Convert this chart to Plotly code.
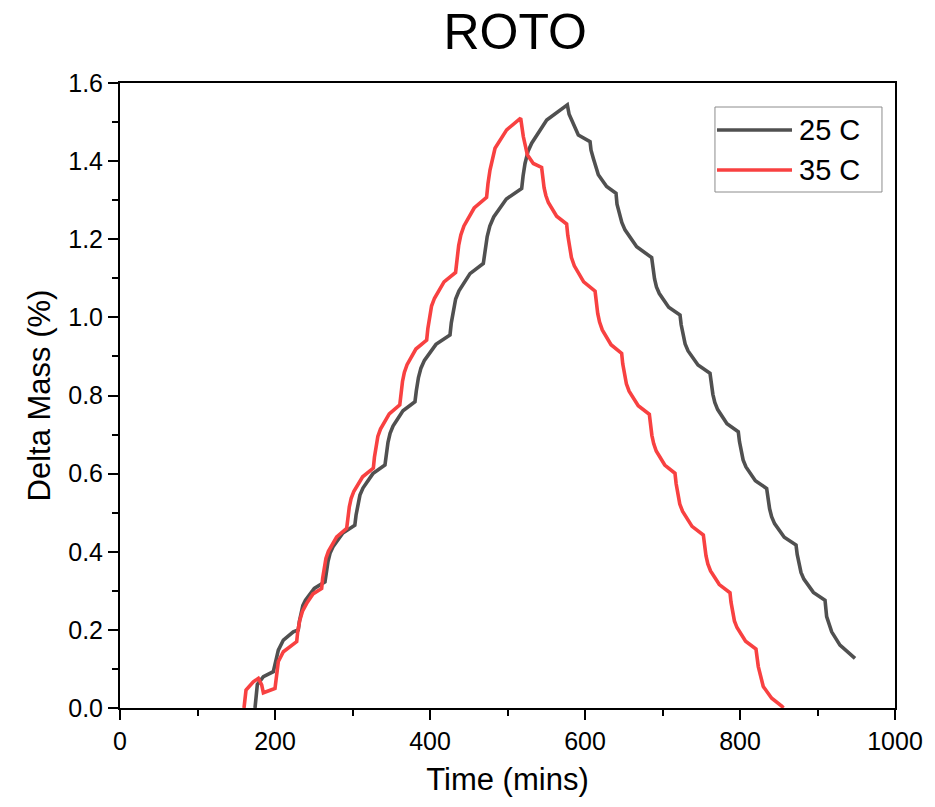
import plotly.graph_objects as go

# ---- data ----
time_25 = [174.2, 177.2, 185, 197.8, 204.3, 210.8, 223.6, 230,
           231.4, 233.5, 235.9, 239.3, 250.7, 264.5,
           266.0, 268.4, 271.0, 274.9, 287.6, 303,
           304.6, 306.9, 309.6, 313.5, 326.3, 341.9,
           343.4, 345.8, 348.5, 352.3, 365.1, 380.6,
           382.4, 385.1, 388.3, 392.8, 407.7, 425.8,
           427.5, 430.1, 433.1, 437.4, 451.6, 468.8,
           470.8, 473.8, 477.2, 482.2, 498.5, 518.3,
           520.1, 522.6, 526.5, 531.2, 550.6, 577.2,
           579.5, 585, 591.4, 606.5,
           607.8, 610.8, 617.2, 627.9, 640,
           641.3, 644.3, 647.5, 651.6, 666.7, 686,
           687.5, 689.7, 692.2, 695.9, 708, 722.6,
           724.1, 726.5, 729.2, 733.0, 745.8, 761.3,
           762.8, 765, 767.5, 771.2, 783.2, 797.8,
           799.3, 801.5, 804.0, 807.7, 819.8, 834.4,
           835.9, 838.2, 840.8, 844.6, 857.1, 872.3,
           873.8, 876.0, 878.7, 882.4, 894.7, 909.7,
           910.5, 911.8, 918.3, 929, 948.4]
mass_25 = [0.0, 0.06, 0.08, 0.093, 0.148, 0.174, 0.195, 0.2,
           0.221, 0.244, 0.262, 0.276, 0.306, 0.323,
           0.348, 0.375, 0.396, 0.413, 0.448, 0.468,
           0.494, 0.523, 0.545, 0.563, 0.600, 0.622,
           0.650, 0.680, 0.703, 0.722, 0.761, 0.784,
           0.813, 0.846, 0.870, 0.890, 0.931, 0.955,
           0.986, 1.021, 1.047, 1.068, 1.112, 1.138,
           1.171, 1.207, 1.234, 1.257, 1.303, 1.33,
           1.362, 1.394, 1.425, 1.446, 1.505, 1.544,
           1.52, 1.493, 1.467, 1.45,
           1.428, 1.407, 1.365, 1.335, 1.318,
           1.29, 1.262, 1.243, 1.224, 1.181, 1.153,
           1.126, 1.099, 1.078, 1.061, 1.026, 1.006,
           0.981, 0.952, 0.932, 0.914, 0.878, 0.857,
           0.832, 0.803, 0.782, 0.764, 0.728, 0.707,
           0.682, 0.655, 0.635, 0.617, 0.582, 0.562,
           0.537, 0.510, 0.490, 0.472, 0.437, 0.417,
           0.393, 0.366, 0.347, 0.330, 0.296, 0.276,
           0.255, 0.234, 0.195, 0.161, 0.127]

time_35 = [160, 162.6, 172, 178.5, 182.8, 185, 200, 204.3, 210.8, 228,
           229.3, 232, 235.5, 240.9, 249, 260.2,
           261.5, 263.4, 265.7, 268.9, 279.6, 292.5,
           293.9, 295.9, 298.3, 301.8, 313.1, 326.9,
           328.3, 330.3, 332.7, 336.1, 347.4, 361,
           362.4, 364.5, 366.9, 370.4, 381.8, 395.7,
           397.2, 399.4, 402.0, 405.8, 418.1, 433,
           434.6, 437, 439.8, 443.8, 457, 473,
           474.8, 477.4, 483.9, 498.9, 517,
           518.1, 520.4, 525.6, 533.3, 544,
           545.3, 547.2, 549.5, 552.7, 563.4, 576.3,
           577.8, 580, 582.5, 586.2, 598.3, 613,
           614.4, 616.4, 618.8, 622.3, 633.6, 647.3,
           648.7, 650.9, 653.4, 656.9, 668.7, 683,
           684.3, 686.3, 688.6, 691.9, 702.9, 716.1,
           717.6, 719.8, 722.3, 726, 738.1, 752.7,
           754.1, 756.1, 758.5, 762, 773.3, 787.1,
           788.4, 790.5, 792.8, 796.1, 807.2, 820.6,
           821.6, 823.6, 830, 840.9, 853.8, 856]
mass_35 = [0.0, 0.046, 0.067, 0.076, 0.059, 0.039, 0.05, 0.119, 0.144, 0.17,
           0.195, 0.225, 0.248, 0.268, 0.292, 0.306,
           0.332, 0.361, 0.383, 0.401, 0.438, 0.46,
           0.486, 0.515, 0.537, 0.555, 0.592, 0.614,
           0.642, 0.672, 0.695, 0.714, 0.753, 0.776,
           0.804, 0.836, 0.859, 0.879, 0.919, 0.942,
           0.971, 1.004, 1.029, 1.049, 1.091, 1.115,
           1.148, 1.184, 1.211, 1.234, 1.280, 1.307,
           1.342, 1.377, 1.433, 1.48, 1.51,
           1.49, 1.463, 1.416, 1.394, 1.384,
           1.359, 1.332, 1.312, 1.294, 1.259, 1.239,
           1.21, 1.177, 1.153, 1.132, 1.091, 1.067,
           1.04, 1.010, 0.988, 0.968, 0.930, 0.908,
           0.881, 0.852, 0.83, 0.811, 0.774, 0.752,
           0.726, 0.698, 0.677, 0.658, 0.622, 0.601,
           0.574, 0.544, 0.522, 0.503, 0.465, 0.443,
           0.418, 0.390, 0.369, 0.351, 0.316, 0.295,
           0.271, 0.243, 0.223, 0.206, 0.171, 0.151,
           0.13, 0.106, 0.055, 0.025, 0.005, 0.0]

series_names = ["25 C", "35 C"]
x_ticks = [0, 200, 400, 600, 800, 1000]
y_ticks = [0.0, 0.2, 0.4, 0.6, 0.8, 1.0, 1.2, 1.4, 1.6]
y_tick_labels = ["0.0", "0.2", "0.4", "0.6", "0.8", "1.0", "1.2", "1.4", "1.6"]

GRAY = "#505050"
RED = "#F84141"
FONT = "Arial, Liberation Sans, sans-serif"

fig = go.Figure()
fig.add_trace(go.Scatter(x=time_25, y=mass_25, mode="lines", name=series_names[0],
                         line=dict(color=GRAY, width=3.6)))
fig.add_trace(go.Scatter(x=time_35, y=mass_35, mode="lines", name=series_names[1],
                         line=dict(color=RED, width=3.6)))

axis_common = dict(showline=True, linewidth=2, linecolor="black", mirror=True,
                   showgrid=False, zeroline=False, ticks="outside", ticklen=10,
                   tickwidth=2, tickcolor="black",
                   tickfont=dict(family=FONT, size=25, color="black"))

fig.update_xaxes(range=[0, 1000], tickvals=x_ticks, ticktext=[str(v) for v in x_ticks],
                 minor=dict(ticks="outside", ticklen=6, tickwidth=2, tickcolor="black",
                            tick0=0, dtick=100),
                 title=dict(text="Time (mins)", font=dict(family=FONT, size=31, color="black"),
                            standoff=14),
                 **axis_common)
fig.update_yaxes(range=[0, 1.6], tickvals=y_ticks, ticktext=y_tick_labels,
                 minor=dict(ticks="outside", ticklen=6, tickwidth=2, tickcolor="black",
                            tick0=0, dtick=0.1),
                 title=dict(text="Delta Mass (%)", font=dict(family=FONT, size=31, color="black"),
                            standoff=8),
                 **axis_common)

# manual legend (long line samples as in the reference)
legend_box = dict(x0=0.7677, x1=0.9832, y0=0.8256, y1=0.9616)
fig.add_shape(type="rect", xref="paper", yref="paper", line=dict(color="#8c8c8c", width=1),
              fillcolor="white", layer="above", **legend_box)
for name, color, yy in [(series_names[0], GRAY, 0.9248), (series_names[1], RED, 0.8608)]:
    fig.add_shape(type="line", xref="paper", yref="paper", x0=0.7703, x1=0.8671, y0=yy, y1=yy,
                  line=dict(color=color, width=3.6), layer="above")
    fig.add_annotation(xref="paper", yref="paper", x=0.8735, y=yy, xanchor="left",
                       yanchor="middle", text=name, showarrow=False,
                       font=dict(family=FONT, size=29, color="black"))

fig.update_layout(
    width=935, height=807,
    margin=dict(l=120, r=40, t=83, b=99),
    plot_bgcolor="white", paper_bgcolor="white",
    showlegend=False,
    title=dict(text="ROTO", x=0.51, xref="paper", xanchor="center",
               y=1 - 31 / 807, yref="container", yanchor="middle",
               font=dict(family=FONT, size=50, color="black")),
)

# remove the default 8px page margin so the figure fills the window exactly
fig.write_html("out.html", config={"displayModeBar": False},
               post_script="document.body.style.margin='0';")
